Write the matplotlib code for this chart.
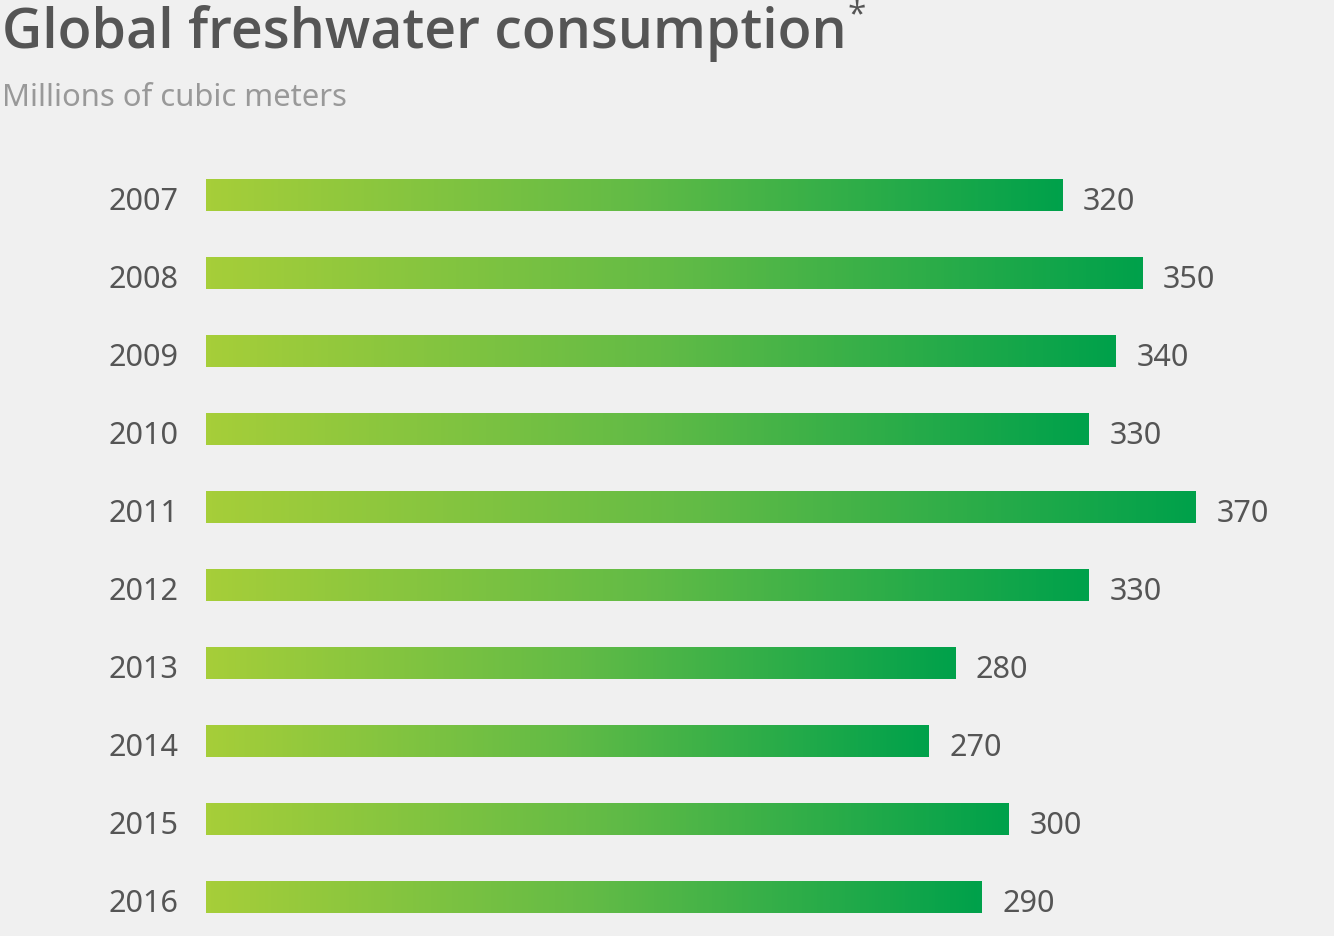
import numpy as np
import matplotlib
matplotlib.use("Agg")
from matplotlib import pyplot as plt
from matplotlib.colors import LinearSegmentedColormap

years = ["2007", "2008", "2009", "2010", "2011", "2012", "2013", "2014", "2015", "2016"]
consumption = [320, 350, 340, 330, 370, 330, 280, 270, 300, 290]

title = "Global freshwater consumption"
subtitle = "Millions of cubic meters"

BG = "#f0f0f0"
TEXT = "#555555"
green_cmap = LinearSegmentedColormap.from_list("greens", ["#a6ce39", "#62bb46", "#00a14b"])

W, H = 1334, 936
fig = plt.figure(figsize=(W / 100, H / 100), dpi=100, facecolor=BG)

# axes: x=0 at pixel 206, 2.675 px per unit; rows 78 px apart
px_per_unit = 2.675
left = 206 / W
width = 400 * px_per_unit / W
top_px = 156
ax = fig.add_axes([left, 0, width, 1 - top_px / H])
ax.set_facecolor(BG)
ax.axis("off")

bar_h = 32 / 78
grad = np.linspace(0, 1, 256).reshape(1, -1)
for i, (yr, val) in enumerate(zip(years, consumption)):
    ax.imshow(grad, cmap=green_cmap, aspect="auto", interpolation="bicubic",
              extent=(0, val, i + bar_h / 2, i - bar_h / 2), zorder=2)
    ax.annotate(str(val), xy=(val, i), xytext=(15, -5), textcoords="offset points",
                ha="left", va="center", fontsize=22, color=TEXT, family="Noto Sans")
    ax.annotate(yr, xy=(0, i), xytext=(-20, -5), textcoords="offset points",
                ha="right", va="center", fontsize=22, color=TEXT, family="Noto Sans")
ax.set_xlim(0, 400)
ax.set_ylim(len(years) - 0.5, -0.5)

t = fig.text(0.0015, 1 - 48 / H, title, fontsize=40, fontweight="semibold", color=TEXT,
             family="Open Sans", va="baseline", ha="left")
fig.text(0.0015, 1 - 106 / H, subtitle, fontsize=22.3, color="#999999",
         family="Noto Sans", fontweight="light", va="baseline", ha="left")
ax.annotate("*", xy=(1, 1), xycoords=t, xytext=(1, 4), textcoords="offset points",
            ha="left", va="top", fontsize=24, color=TEXT, family="Open Sans",
            annotation_clip=False)

fig.savefig("out.png", dpi=100, facecolor=BG)
